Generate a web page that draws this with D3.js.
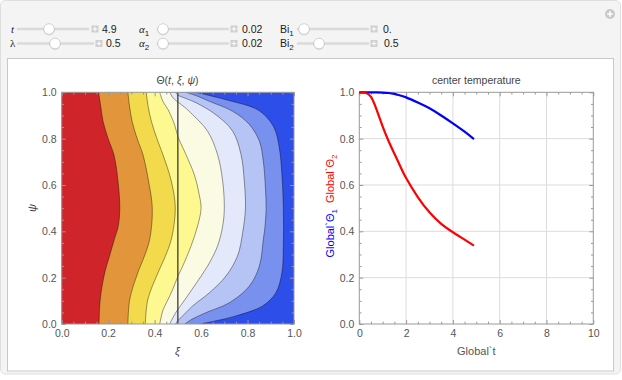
<!DOCTYPE html>
<html><head><meta charset="utf-8">
<script src="https://cdn.jsdelivr.net/npm/d3@7"></script>
<style>
html,body{margin:0;padding:0;background:#fff;}
svg{display:block;font-family:"Liberation Sans",Arial,sans-serif;}
</style></head><body>
<svg id="chart" width="622" height="380"></svg>
<script>
// ---------------- DATA ----------------
const xiTicks = [0, 0.2, 0.4, 0.6, 0.8, 1.0];
const psiTicks = [0, 0.2, 0.4, 0.6, 0.8, 1.0];
const tTicks = [0, 2, 4, 6, 8, 10];
const thetaTicks = [0, 0.2, 0.4, 0.6, 0.8, 1.0];

// contour lines of Θ(t, ξ, ψ), each listed from ψ = 1 down to ψ = 0, as [ξ, ψ]
const contour1 = [[0.159,1],[0.168,0.94],[0.178,0.875],[0.200,0.80],[0.225,0.73],[0.242,0.62],[0.250,0.50],[0.243,0.42],[0.228,0.37],[0.205,0.29],[0.185,0.22],[0.166,0.107],[0.161,0]];
const contour2 = [[0.285,1],[0.292,0.94],[0.303,0.875],[0.325,0.80],[0.350,0.73],[0.374,0.616],[0.390,0.50],[0.379,0.366],[0.355,0.29],[0.328,0.222],[0.293,0.107],[0.285,0]];
const contour3 = [[0.364,1],[0.372,0.94],[0.386,0.875],[0.410,0.80],[0.436,0.73],[0.472,0.616],[0.489,0.50],[0.472,0.366],[0.445,0.29],[0.415,0.222],[0.371,0.107],[0.360,0]];
const contour4 = [[0.422,1],[0.436,0.96],[0.458,0.925],[0.486,0.86],[0.500,0.81],[0.535,0.731],[0.571,0.644],[0.592,0.558],[0.600,0.50],[0.585,0.423],[0.557,0.337],[0.521,0.25],[0.500,0.205],[0.478,0.15],[0.455,0.10],[0.436,0.06],[0.422,0]];
const contour5 = [[0.465,1],[0.480,0.975],[0.500,0.958],[0.530,0.935],[0.564,0.903],[0.628,0.832],[0.671,0.731],[0.693,0.616],[0.700,0.50],[0.693,0.423],[0.671,0.337],[0.628,0.25],[0.571,0.164],[0.521,0.092],[0.500,0.063],[0.480,0.03],[0.465,0]];
const contour6 = [[0.490,1],[0.500,0.988],[0.530,0.975],[0.578,0.955],[0.664,0.903],[0.736,0.832],[0.772,0.731],[0.786,0.616],[0.791,0.50],[0.779,0.394],[0.757,0.294],[0.707,0.207],[0.636,0.135],[0.564,0.078],[0.514,0.028],[0.500,0.015],[0.490,0]];
const contour7 = [[0.535,1],[0.580,0.985],[0.636,0.961],[0.736,0.918],[0.808,0.861],[0.851,0.789],[0.868,0.702],[0.877,0.587],[0.880,0.50],[0.875,0.42],[0.868,0.365],[0.851,0.25],[0.808,0.164],[0.722,0.092],[0.621,0.049],[0.560,0.02],[0.530,0]];
const contour8 = [[0.578,1],[0.640,0.985],[0.707,0.968],[0.829,0.932],[0.872,0.903],[0.915,0.846],[0.937,0.759],[0.948,0.644],[0.954,0.5],[0.954,0.337],[0.948,0.222],[0.922,0.135],[0.865,0.078],[0.750,0.035],[0.636,0.008],[0.592,0]];
const interfaceXi = 0.5;

// center temperature curves
const tValues = [0, 0.25, 0.5, 0.75, 1, 1.25, 1.5, 1.75, 2, 2.5, 3, 3.5, 4, 4.5, 4.9];
const theta1 = [1.0, 1.0, 1.0, 1.0, 0.999, 0.997, 0.993, 0.986, 0.978, 0.956, 0.931, 0.900, 0.866, 0.830, 0.798];
const theta2 = [1.0, 0.998, 0.98, 0.922, 0.852, 0.79, 0.735, 0.681, 0.630, 0.548, 0.482, 0.432, 0.396, 0.364, 0.338];

// controls
const controlNames = ["t", "λ", "α1", "α2", "Bi1", "Bi2"];
const controlValues = ["4.9", "0.5", "0.02", "0.02", "0.", "0.5"];

// ---------------- STYLE / LAYOUT ----------------
const contours = [contour1, contour2, contour3, contour4, contour5, contour6, contour7, contour8];
const bandColors = ["#d0242b", "#e2953b", "#f3da4c", "#fdf88f", "#fbfbe3", "#e3e8fa", "#b5c4f5", "#7890ee", "#2e4eea"];
const labelGray = "#555";
const frameGray = "#999";

const svg = d3.select("#chart");

// outer frame
svg.append("rect").attr("x", 0.5).attr("y", 0.5).attr("width", 620).attr("height", 373.5)
  .attr("rx", 5).attr("fill", "#f4f4f4").attr("stroke", "#dedede");
svg.append("rect").attr("x", 7.5).attr("y", 58.5).attr("width", 606).attr("height", 312.5)
  .attr("fill", "#fff").attr("stroke", "#c9c9c9");

// top-right button
const btn = svg.append("g").attr("transform", "translate(610,14)");
btn.append("circle").attr("r", 5).attr("fill", "#c9c9c9");
btn.append("path").attr("d", "M-2.8,0H2.8M0,-2.8V2.8").attr("stroke", "#fff").attr("stroke-width", 1.6);

// controls
const controlLayout = [
  {lx: 11, y: 29, t0: 18, t1: 88, knob: 49, plus: 95, vx: 102},
  {lx: 10, y: 43.5, t0: 18, t1: 93, knob: 55, plus: 99, vx: 106},
  {lx: 139, y: 29, t0: 158, t1: 228, knob: 163, plus: 234, vx: 242},
  {lx: 139, y: 43.5, t0: 158, t1: 228, knob: 163, plus: 234, vx: 242},
  {lx: 280, y: 29, t0: 298, t1: 368, knob: 304, plus: 374, vx: 383},
  {lx: 280, y: 43.5, t0: 298, t1: 368, knob: 319, plus: 374, vx: 384}
];
controlNames.forEach((name, i) => {
  const L = controlLayout[i];
  const g = svg.append("g");
  const lab = g.append("text").attr("x", L.lx).attr("y", L.y + 3.8).attr("font-size", 11).attr("fill", "#222");
  if (name === "t") {
    lab.attr("font-family", "'Liberation Serif',serif").attr("font-style", "italic").text("t");
  } else if (name === "λ") {
    lab.attr("font-family", "'Liberation Serif',serif").text("λ");
  } else if (name.startsWith("α")) {
    lab.append("tspan").attr("font-family", "'Liberation Serif',serif").attr("font-style", "italic").text("α");
    lab.append("tspan").attr("font-size", 8).attr("dy", 3).text(name.slice(1));
  } else {
    lab.append("tspan").attr("font-size", 10.5).text("Bi");
    lab.append("tspan").attr("font-size", 8).attr("dy", 3).text(name.slice(2));
  }
  g.append("line").attr("x1", L.t0).attr("x2", L.t1).attr("y1", L.y).attr("y2", L.y)
    .attr("stroke", "#dadada").attr("stroke-width", 2.5).attr("stroke-linecap", "round");
  g.append("circle").attr("cx", L.knob).attr("cy", L.y + 0.7).attr("r", 5.8).attr("fill", "#000").attr("opacity", 0.1);
  g.append("circle").attr("cx", L.knob).attr("cy", L.y).attr("r", 5.3).attr("fill", "#fff").attr("stroke", "#c4c4c4").attr("stroke-width", 0.7);
  g.append("rect").attr("x", L.plus - 3.5).attr("y", L.y - 3.5).attr("width", 7).attr("height", 7).attr("fill", "#cfcfcf");
  g.append("path").attr("d", `M${L.plus - 2.3},${L.y}H${L.plus + 2.3}M${L.plus},${L.y - 2.3}V${L.y + 2.3}`).attr("stroke", "#fff").attr("stroke-width", 1.1);
  g.append("text").attr("x", L.vx).attr("y", L.y + 3.8).attr("font-size", 10.5).attr("fill", "#222").text(controlValues[i]);
});

// ---------------- LEFT: contour plot ----------------
const xL = d3.scaleLinear().domain([0, 1]).range([61.7, 294]);
const yL = d3.scaleLinear().domain([0, 1]).range([324, 92.3]);

svg.append("defs").append("clipPath").attr("id", "clipL")
  .append("rect").attr("x", xL(0)).attr("y", yL(1)).attr("width", xL(1) - xL(0)).attr("height", yL(0) - yL(1));

const gL = svg.append("g").attr("clip-path", "url(#clipL)");
gL.append("rect").attr("x", xL(0)).attr("y", yL(1)).attr("width", xL(1) - xL(0)).attr("height", yL(0) - yL(1))
  .attr("fill", bandColors[8]);

const lineGen = d3.line().x(d => xL(d[0])).y(d => yL(d[1])).curve(d3.curveCatmullRom.alpha(0.5));
for (let k = contours.length - 1; k >= 0; k--) {
  const d = lineGen(contours[k]) + `L${xL(-0.1)},${yL(0)}L${xL(-0.1)},${yL(1)}Z`;
  gL.append("path").attr("d", d).attr("fill", bandColors[k]);
}
contours.forEach(c => {
  gL.append("path").attr("d", lineGen(c)).attr("fill", "none")
    .attr("stroke", "#000").attr("stroke-opacity", 0.5).attr("stroke-width", 0.8);
});
gL.append("line").attr("x1", xL(interfaceXi)).attr("x2", xL(interfaceXi)).attr("y1", yL(0)).attr("y2", yL(1))
  .attr("stroke", "#3a3a3a").attr("stroke-width", 1.3);

function drawFrame(x, y, xt, yt, xMinor, yMinor, xFmt, yFmt) {
  const g = svg.append("g");
  const x0 = x.range()[0], x1 = x.range()[1], y0 = y.range()[0], y1 = y.range()[1];
  const mk = (axis, tr) => {
    const a = g.append("g").attr("transform", tr).call(axis);
    a.select(".domain").remove();
    a.selectAll("line").attr("stroke", frameGray);
    a.selectAll("text").attr("fill", labelGray).attr("font-size", 10.5).attr("font-family", "'Liberation Sans',Arial,sans-serif");
    return a;
  };
  mk(d3.axisBottom(x).tickValues(xt).tickSize(-4).tickPadding(6).tickFormat(xFmt), `translate(0,${y0})`);
  mk(d3.axisBottom(x).tickValues(xMinor).tickSize(-2.3).tickFormat(""), `translate(0,${y0})`);
  mk(d3.axisTop(x).tickValues(xt).tickSize(-4).tickFormat(""), `translate(0,${y1})`);
  mk(d3.axisTop(x).tickValues(xMinor).tickSize(-2.3).tickFormat(""), `translate(0,${y1})`);
  mk(d3.axisLeft(y).tickValues(yt).tickSize(-4).tickPadding(5).tickFormat(yFmt), `translate(${x0},0)`);
  mk(d3.axisLeft(y).tickValues(yMinor).tickSize(-2.3).tickFormat(""), `translate(${x0},0)`);
  mk(d3.axisRight(y).tickValues(yt).tickSize(-4).tickFormat(""), `translate(${x1},0)`);
  mk(d3.axisRight(y).tickValues(yMinor).tickSize(-2.3).tickFormat(""), `translate(${x1},0)`);
  g.append("rect").attr("x", x0).attr("y", y1).attr("width", x1 - x0).attr("height", y0 - y1)
    .attr("fill", "none").attr("stroke", frameGray).attr("stroke-width", 1);
}
const minorOf = (ticks, step) => {
  const out = [];
  for (let i = 0; i < ticks.length - 1; i++) {
    for (let v = ticks[i] + step; v < ticks[i + 1] - step / 2; v += step) out.push(+v.toFixed(4));
  }
  return out;
};
drawFrame(xL, yL, xiTicks, psiTicks, minorOf(xiTicks, 0.05), minorOf(psiTicks, 0.05), d3.format(".1f"), d3.format(".1f"));

// titles / labels left
const tl = svg.append("text").attr("x", 177.5).attr("y", 84).attr("text-anchor", "middle")
  .attr("font-size", 10.5).attr("fill", "#444");
tl.append("tspan").text("Θ(");
tl.append("tspan").attr("font-style", "italic").text("t");
tl.append("tspan").text(", ");
tl.append("tspan").attr("font-style", "italic").text("ξ");
tl.append("tspan").text(", ");
tl.append("tspan").attr("font-style", "italic").text("ψ");
tl.append("tspan").text(")");
svg.append("text").attr("x", 177.5).attr("y", 355).attr("text-anchor", "middle").attr("font-size", 11)
  .attr("font-style", "italic").attr("fill", "#444").text("ξ");
svg.append("text").attr("transform", "translate(36,208) rotate(-90)").attr("text-anchor", "middle").attr("font-size", 11)
  .attr("font-style", "italic").attr("fill", "#444").text("ψ");

// ---------------- RIGHT: center temperature ----------------
const xR = d3.scaleLinear().domain([0, 10]).range([359.3, 593.3]);
const yR = d3.scaleLinear().domain([0, 1]).range([324, 92.3]);
const gR = svg.append("g");
[2, 4, 6, 8].forEach(v => gR.append("line").attr("x1", xR(v)).attr("x2", xR(v)).attr("y1", yR(0)).attr("y2", yR(1))
  .attr("stroke", "#dcdcdc"));
[0.2, 0.4, 0.6, 0.8].forEach(v => gR.append("line").attr("x1", xR(0)).attr("x2", xR(10)).attr("y1", yR(v)).attr("y2", yR(v))
  .attr("stroke", "#dcdcdc"));
drawFrame(xR, yR, tTicks, thetaTicks, minorOf(tTicks, 0.5), minorOf(thetaTicks, 0.05), d3.format("d"), d3.format(".1f"));

const curveGen = (vals) => d3.line().x((d, i) => xR(tValues[i])).y(d => yR(d)).curve(d3.curveNatural)(vals);
svg.append("path").attr("d", curveGen(theta1)).attr("fill", "none").attr("stroke", "#0000ff").attr("stroke-width", 2.2);
svg.append("path").attr("d", curveGen(theta2)).attr("fill", "none").attr("stroke", "#ff0000").attr("stroke-width", 2.2);

svg.append("text").attr("x", 476.3).attr("y", 84).attr("text-anchor", "middle").attr("font-size", 10.5)
  .attr("fill", "#444").text("center temperature");
svg.append("text").attr("x", 476.3).attr("y", 355).attr("text-anchor", "middle").attr("font-size", 11)
  .attr("fill", "#555").text("Global`t");
const yl = svg.append("text").attr("transform", "translate(334,206) rotate(-90)").attr("text-anchor", "middle")
  .attr("font-size", 11);
yl.append("tspan").attr("fill", "#0000ff").text("Global`Θ");
yl.append("tspan").attr("fill", "#0000ff").attr("font-size", 8).attr("dy", 2.5).text("1");
yl.append("tspan").attr("fill", "#ff0000").attr("dy", -2.5).attr("dx", 6).text("Global`Θ");
yl.append("tspan").attr("fill", "#ff0000").attr("font-size", 8).attr("dy", 2.5).text("2");
</script>
</body></html>
